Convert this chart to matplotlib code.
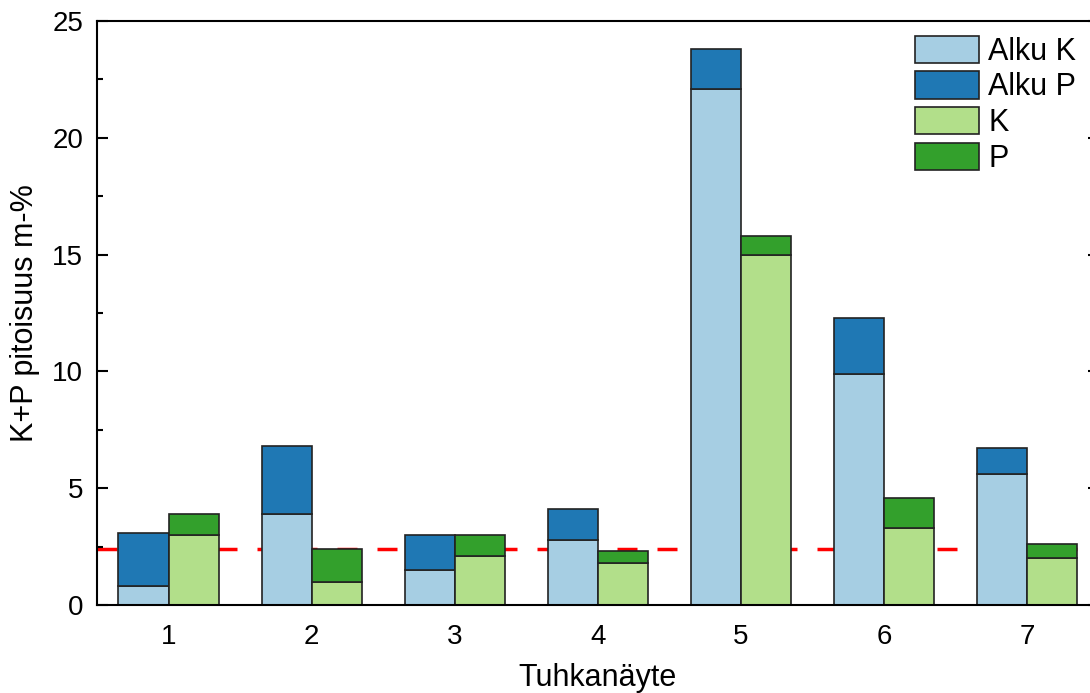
import numpy as np
import matplotlib.pyplot as plt
from matplotlib.ticker import MultipleLocator

plt.rcParams['font.family'] = ['Liberation Sans', 'DejaVu Sans']

# Näytteet ja pitoisuudet (m-%)
naytteet = ['1', '2', '3', '4', '5', '6', '7']
alku_k = [0.8, 3.9, 1.5, 2.8, 22.1, 9.9, 5.6]
alku_p = [2.3, 2.9, 1.5, 1.3, 1.7, 2.4, 1.1]
k = [3.0, 1.0, 2.1, 1.8, 15.0, 3.3, 2.0]
p = [0.9, 1.4, 0.9, 0.5, 0.8, 1.3, 0.6]
raja = 2.4

x = np.arange(1, len(naytteet) + 1)
w = 0.35
ec = '#222222'

fig = plt.figure(figsize=(10.9, 6.93), dpi=100)
ax = fig.add_axes([97 / 1090, 88 / 693, 1001.5 / 1090, 584 / 693])

ax.axhline(raja, color='#ff0000', lw=2.5, dashes=(5.76, 5.76), zorder=1)

ax.bar(x - w / 2, alku_k, w, color='#a6cee3', edgecolor=ec, lw=1.2, label='Alku K', zorder=2)
ax.bar(x - w / 2, alku_p, w, bottom=alku_k, color='#1f78b4', edgecolor=ec, lw=1.2, label='Alku P', zorder=2)
ax.bar(x + w / 2, k, w, color='#b2df8a', edgecolor=ec, lw=1.2, label='K', zorder=2)
ax.bar(x + w / 2, p, w, bottom=k, color='#33a02c', edgecolor=ec, lw=1.2, label='P', zorder=2)

ax.set_xlim(0.5, 7.5)
ax.set_ylim(0, 25)
ax.set_xticks(x)
ax.set_xticklabels(naytteet)
ax.yaxis.set_major_locator(MultipleLocator(5))
ax.yaxis.set_minor_locator(MultipleLocator(2.5))

for s in ax.spines.values():
    s.set_linewidth(1.5)
ax.tick_params(axis='x', length=0, pad=14, labelsize=20)
ax.tick_params(axis='y', which='major', direction='in', length=8, width=1.5,
               right=True, pad=10, labelsize=20)
ax.tick_params(axis='y', which='minor', direction='in', length=4.5, width=1.5, right=True)

ax.set_xlabel('Tuhkanäyte', fontsize=22, labelpad=9)
ax.set_ylabel('K+P pitoisuus m-%', fontsize=22, labelpad=9)

leg = ax.legend(loc='upper left', bbox_to_anchor=(0.8167, 0.975), frameon=False,
                fontsize=22, handlelength=2.1, handleheight=1.0, labelspacing=0.15,
                handletextpad=0.3, borderpad=0, borderaxespad=0)

fig.savefig('out.png', dpi=100)
